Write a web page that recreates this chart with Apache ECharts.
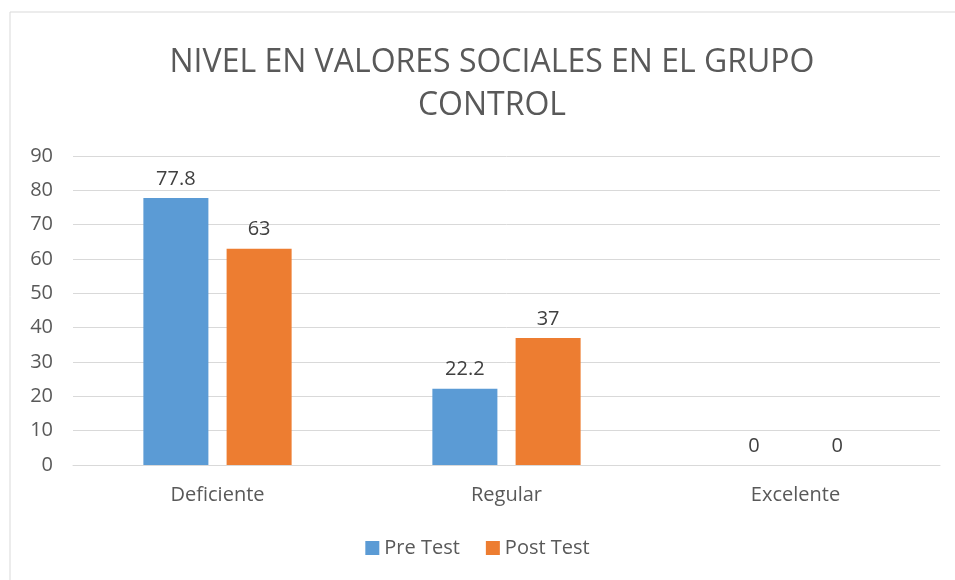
<!DOCTYPE html>
<html>
<head>
<meta charset="utf-8">
<script src="https://cdn.jsdelivr.net/npm/echarts@6/dist/echarts.min.js"></script>
<style>
  html, body { margin: 0; padding: 0; background: #fff; }
  #chart { width: 955px; height: 580px; }
</style>
</head>
<body>
<div id="chart"></div>
<script>
// datos del grafico
const categorias = ["Deficiente", "Regular", "Excelente"];
const preTest = [77.8, 22.2, 0];
const postTest = [63, 37, 0];
const titulo = "NIVEL EN VALORES SOCIALES EN EL GRUPO\nCONTROL";

const fuente = "'Open Sans', 'Noto Sans', sans-serif";

const chart = echarts.init(document.getElementById("chart"));

chart.setOption({
    backgroundColor: "#fff",
    textStyle: { fontFamily: fuente },
    graphic: [{
        type: "rect",
        shape: { x: 10, y: 12, width: 960, height: 600 },
        style: { fill: "none", stroke: "#d9d9d9", lineWidth: 1 },
        silent: true
    }],
    title: {
        text: titulo,
        left: 487,
        textAlign: "center",
        top: 36,
        textStyle: {
            fontFamily: fuente,
            fontSize: 32,
            fontWeight: "normal",
            color: "#595959",
            lineHeight: 43
        }
    },
    legend: {
        bottom: 17,
        left: "center",
        itemWidth: 14,
        itemHeight: 14,
        itemGap: 26,
        icon: "rect",
        textStyle: { fontSize: 20, color: "#595959", fontFamily: fuente }
    },
    grid: { left: 73, right: 15, top: 156, bottom: 115 },
    xAxis: {
        type: "category",
        data: categorias,
        axisLine: { show: true, lineStyle: { color: "#d9d9d9" } },
        axisTick: { show: false },
        axisLabel: { fontSize: 20, color: "#595959", margin: 20 }
    },
    yAxis: {
        type: "value",
        min: 0,
        max: 90,
        interval: 10,
        axisLine: { show: false },
        axisTick: { show: false },
        axisLabel: { fontSize: 20, color: "#595959", margin: 20 },
        splitLine: { lineStyle: { color: "#d9d9d9", width: 1 } }
    },
    series: [
        {
            name: "Pre Test",
            type: "bar",
            data: preTest,
            barWidth: "22.5%",
            barGap: "28%",
            itemStyle: { color: "#5b9bd5" },
            label: { show: true, position: "top", distance: 9, fontSize: 20, color: "#404040" }
        },
        {
            name: "Post Test",
            type: "bar",
            data: postTest,
            barWidth: "22.5%",
            itemStyle: { color: "#ed7d31" },
            label: { show: true, position: "top", distance: 9, fontSize: 20, color: "#404040" }
        }
    ]
});
</script>
</body>
</html>
